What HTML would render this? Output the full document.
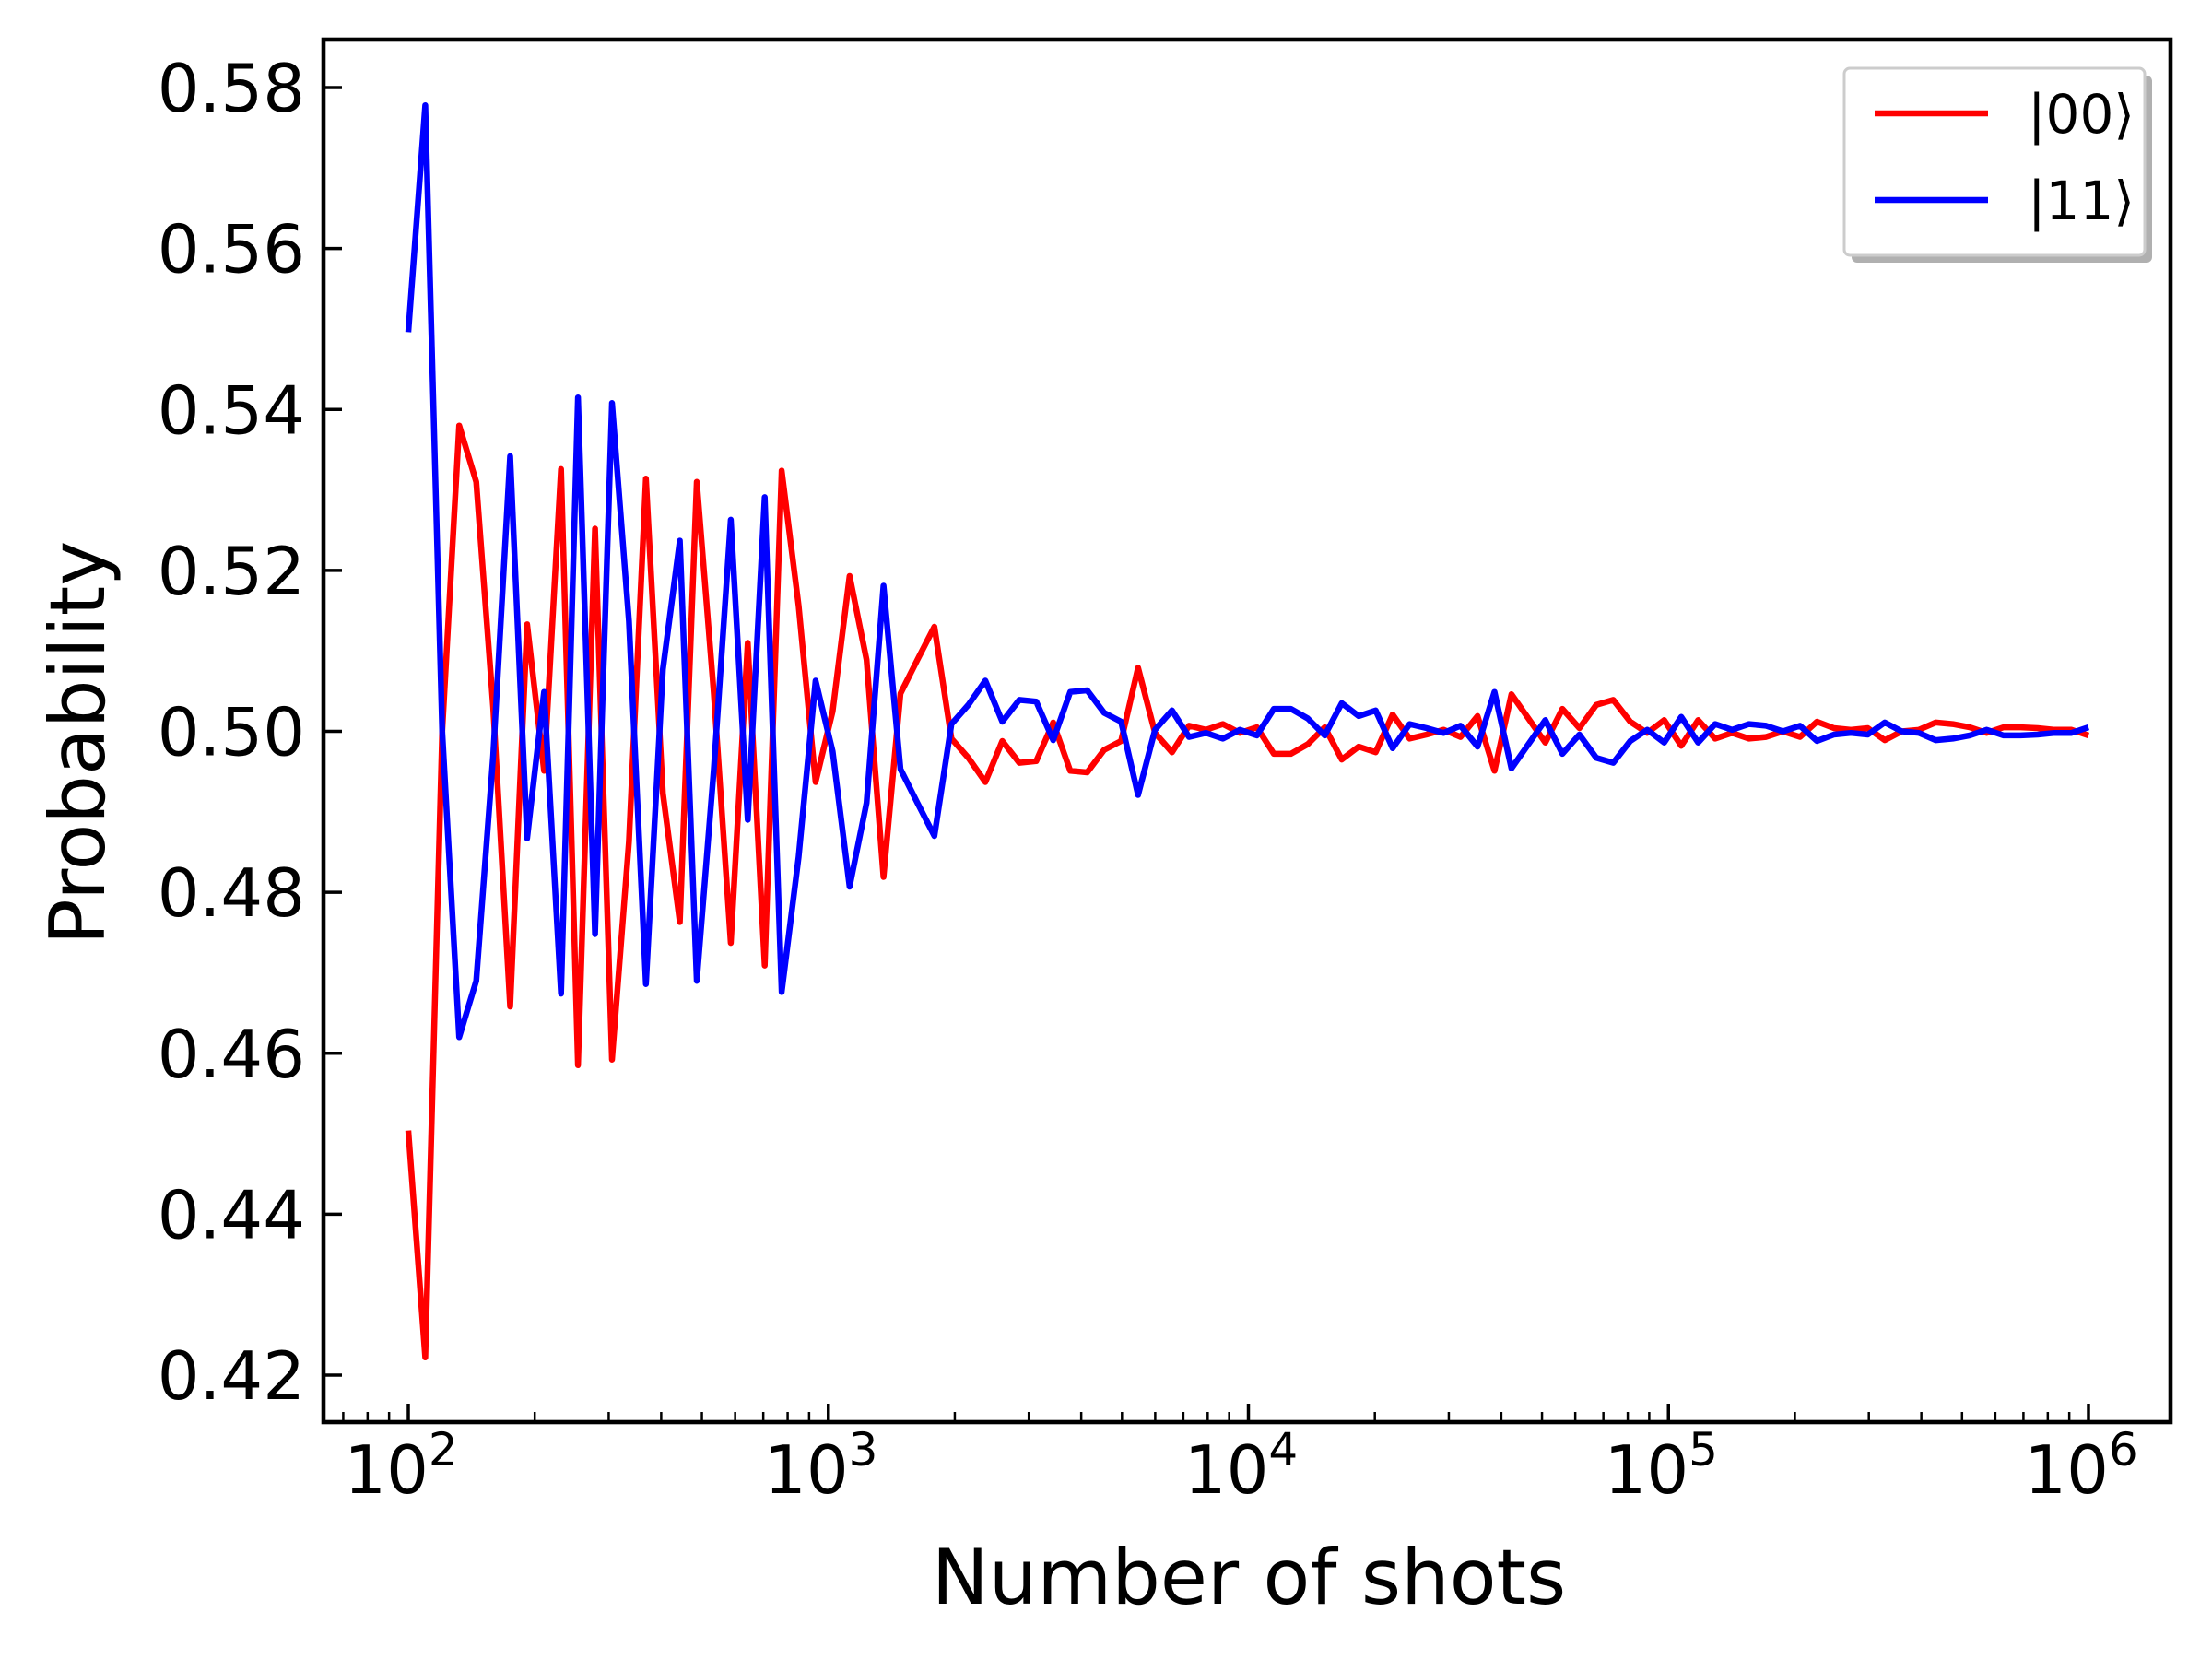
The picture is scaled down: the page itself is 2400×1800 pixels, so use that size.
<!DOCTYPE html>
<html><head><meta charset="utf-8"><style>
html,body{margin:0;padding:0;background:#fff}
svg{display:block}
text{font-family:"DejaVu Sans","Liberation Sans",sans-serif;fill:#000}
</style></head><body>
<svg id="chart" width="2400" height="1800" viewBox="0 0 2400 1800" xmlns="http://www.w3.org/2000/svg">
<rect width="2400" height="1800" fill="#fff"/>
<g id="plot"></g>
<g id="axes"></g>
<text x="1355" y="1740" font-size="83" text-anchor="middle">Number of shots</text>
<text x="0" y="0" font-size="83" text-anchor="middle" transform="translate(113,806) rotate(-90)">Probability</text>
<g>
<rect x="2009" y="82" width="326" height="203" rx="6" fill="#b0b0b0"/>
<rect x="2001" y="74" width="326" height="203" rx="6" fill="#fff" stroke="#ccc" stroke-width="3"/>
<line x1="2034" y1="123" x2="2157" y2="123" stroke="#ff0000" stroke-width="6.5"/>
<text x="2200" y="144" font-size="58">|00⟩</text>
<line x1="2034" y1="217" x2="2157" y2="217" stroke="#0000ff" stroke-width="6.5"/>
<text x="2200" y="238" font-size="58">|11⟩</text>
</g>
</svg>
<script>
const p00 = [0.4504,0.4222,0.5000,0.5380,0.5310,0.5030,0.4658,0.5133,0.4951,0.5326,0.4585,0.5252,
0.4592,0.4863,0.5314,0.4923,0.4763,0.5310,0.5047,0.4737,0.5110,0.4709,
0.5324,0.5156,0.4937,0.5025,0.5193,0.5089,0.4819,0.5047,0.5089,0.5130,
0.4991,0.4967,0.4937,0.4988,0.4961,0.4963,0.5011,0.4951,0.4949,0.4977,
0.4988,0.5079,0.4998,0.4974,0.5007,0.5002,0.5009,0.4998,0.5005,0.4972,
0.4972,0.4984,0.5005,0.4965,0.4981,0.4974,0.5021,0.4991,0.4996,0.5002,
0.4993,0.5019,0.4951,0.5046,0.5016,0.4986,0.5028,0.5004,0.5033,0.5039,
0.5012,0.4998,0.5014,0.4982,0.5014,0.4991,0.4998,0.4991,0.4993,0.5000,
0.4993,0.5012,0.5004,0.5002,0.5004,0.4989,0.5000,0.5002,0.5011,0.5009,
0.5005,0.4998,0.5005,0.5005,0.5004,0.5002,0.5002,0.4995];
const p11 = [0.5496,0.5778,0.5000,0.4620,0.4690,0.4970,0.5342,0.4867,0.5049,0.4674,0.5415,0.4748,
0.5408,0.5137,0.4686,0.5077,0.5237,0.4690,0.4953,0.5263,0.4890,0.5291,
0.4676,0.4844,0.5063,0.4975,0.4807,0.4911,0.5181,0.4953,0.4911,0.4870,
0.5009,0.5033,0.5063,0.5012,0.5039,0.5037,0.4989,0.5049,0.5051,0.5023,
0.5012,0.4921,0.5002,0.5026,0.4993,0.4998,0.4991,0.5002,0.4995,0.5028,
0.5028,0.5016,0.4995,0.5035,0.5019,0.5026,0.4979,0.5009,0.5004,0.4998,
0.5007,0.4981,0.5049,0.4954,0.4984,0.5014,0.4972,0.4996,0.4967,0.4961,
0.4988,0.5002,0.4986,0.5018,0.4986,0.5009,0.5002,0.5009,0.5007,0.5000,
0.5007,0.4988,0.4996,0.4998,0.4996,0.5011,0.5000,0.4998,0.4989,0.4991,
0.4995,0.5002,0.4995,0.4995,0.4996,0.4998,0.4998,0.5005];
const yTicks = [0.42,0.44,0.46,0.48,0.50,0.52,0.54,0.56,0.58];
const yTickLabels = ["0.42","0.44","0.46","0.48","0.50","0.52","0.54","0.56","0.58"];
const xExponents = [2,3,4,5,6];
const xMin = 2, xMax = 6;

const NS = "http://www.w3.org/2000/svg";
const L = 351, R = 2355, T = 43, B = 1543;
const X0 = 443, X1 = 2266;
function xScale(logv){ return X0 + (logv - xMin) / (xMax - xMin) * (X1 - X0); }
function yScale(v){ return 95 + (0.58 - v) / 0.16 * (1492 - 95); }
function mk(tag, attrs, parent){ const e = document.createElementNS(NS, tag); for (const k in attrs) e.setAttribute(k, attrs[k]); parent.appendChild(e); return e; }

const plot = document.getElementById('plot');
const axes = document.getElementById('axes');

function drawSeries(vals, color, name){
  const n = vals.length;
  const pts = vals.map((v,i)=>{
    const lx = xMin + (xMax - xMin) * i / (n - 1);
    return xScale(lx).toFixed(1) + ',' + yScale(v).toFixed(1);
  }).join(' ');
  const pl = mk('polyline', {points: pts, fill: 'none', stroke: color, 'stroke-width': 6.5, 'stroke-linejoin': 'round'}, plot);
  
  
}
drawSeries(p00, '#ff0000', 'line-00');
drawSeries(p11, '#0000ff', 'line-11');

const frame = mk('rect', {x: L, y: T, width: R - L, height: B - T, fill: 'none', stroke: '#000', 'stroke-width': 4.6}, axes);



yTicks.forEach((v, i) => {
  const y = yScale(v);
  const t = mk('line', {x1: L, y1: y, x2: L + 20, y2: y, stroke: '#000', 'stroke-width': 3.5}, axes);
  
  
  const tx = mk('text', {x: 331, y: y + 26, 'font-size': 72, 'text-anchor': 'end'}, axes);
  tx.textContent = yTickLabels[i];
  
  
});

xExponents.forEach(e => {
  const x = xScale(e);
  const t = mk('line', {x1: x, y1: B, x2: x, y2: B - 20, stroke: '#000', 'stroke-width': 3.5}, axes);
  
  
  const tx = mk('text', {x: x - 8, y: 1620, 'font-size': 72, 'text-anchor': 'middle'}, axes);
  
  
  tx.textContent = '10';
  const sup = mk('tspan', {dy: -30, 'font-size': 50}, tx);
  sup.textContent = String(e);
});
for (let e = 1; e <= 6; e++) {
  for (let m = 2; m <= 9; m++) {
    const lx = e + Math.log10(m);
    const x = xScale(lx);
    if (x <= L + 2 || x >= R - 2) continue;
    const t = mk('line', {x1: x, y1: B, x2: x, y2: B - 11, stroke: '#000', 'stroke-width': 2.5}, axes);
    
    
  }
}
</script>
</body></html>
